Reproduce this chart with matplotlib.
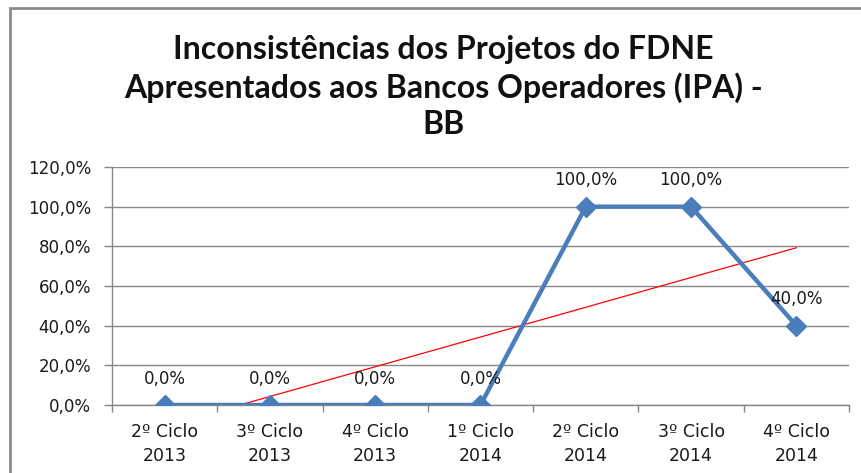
import matplotlib.pyplot as plt
import numpy as np
from matplotlib.patches import Rectangle

## Chart data
categorias = ['2º Ciclo\n2013', '3º Ciclo\n2013', '4º Ciclo\n2013', '1º Ciclo\n2014',
              '2º Ciclo\n2014', '3º Ciclo\n2014', '4º Ciclo\n2014']
valores = [0.0, 0.0, 0.0, 0.0, 100.0, 100.0, 40.0]
yticks = [0, 20, 40, 60, 80, 100, 120]

titulo = ['Inconsistências dos Projetos do FDNE',
          'Apresentados aos Bancos Operadores (IPA) -',
          'BB']
titulo_y = [47, 85, 122]  # line centres, pixels from top

azul = '#4a7ebb'
cinza = '#878787'

fig = plt.figure(figsize=(8.62, 4.73), dpi=100)
ax = fig.add_axes([112/862, 68/473, 737/862, 238/473])

x = np.arange(len(valores))
ax.plot(x, valores, color=azul, lw=3.2, marker='D', ms=10, zorder=3, solid_joinstyle='miter')

## linear trendline (like Excel), clipped at 0
a, b = np.polyfit(x, valores, 1)
x0 = -b / a
xt = np.array([max(x0, 0), x[-1]])
ax.plot(xt, a * xt + b, color='red', lw=0.9, zorder=2)

for xi, v in zip(x, valores):
    ax.annotate(f'{v:.1f}%'.replace('.', ','), (xi, v), xytext=(0, 19), textcoords='offset points',
                ha='center', va='center', fontsize=12, color='#1a1a1a')

ax.set_xlim(-0.5, len(valores) - 0.5)
ax.set_ylim(0, 120)
ax.set_yticks(yticks)
ax.set_yticklabels([f'{t:.1f}%'.replace('.', ',') for t in yticks])
ax.set_xticks(x)
ax.set_xticklabels(categorias, linespacing=1.4)
ax.set_xticks(np.arange(-0.5, len(valores)), minor=True)
ax.tick_params(axis='x', which='major', length=0, pad=13, labelsize=12.5, labelcolor='#1a1a1a')
ax.tick_params(axis='x', which='minor', length=5, color=cinza, width=1)
ax.tick_params(axis='y', length=6, color=cinza, width=1, pad=9, labelsize=12, labelcolor='#1a1a1a')

ax.grid(axis='y', color=cinza, lw=1)
ax.set_axisbelow(True)
for s in ['top', 'right']:
    ax.spines[s].set_visible(False)
for s in ['left', 'bottom']:
    ax.spines[s].set_color(cinza)
    ax.spines[s].set_linewidth(1)

for linha, yp in zip(titulo, titulo_y):
    fig.text(0.514, 1 - yp/473, linha, ha='center', va='center_baseline', fontsize=23,
             fontweight='bold', family='Lato', color='#111111')

## outer chart border
fig.patches.append(Rectangle((10/862, -0.2), 1.2, 1.2 - 8/473, transform=fig.transFigure,
                             fill=False, ec='#8a8a8a', lw=2))

fig.savefig('out.png', dpi=100)
